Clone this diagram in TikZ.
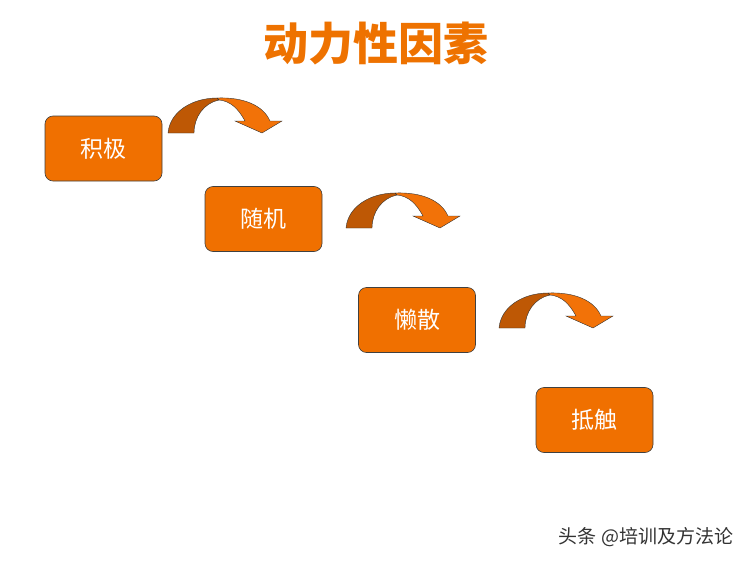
\documentclass[tikz,border=0pt]{standalone}
\usepackage{fontspec}
\newfontfamily\cjk{Noto Sans CJK SC}
\usetikzlibrary{calc}

\definecolor{boxorange}{RGB}{240,112,0}
\definecolor{arrowdark}{RGB}{190,88,5}
\definecolor{arrowlight}{RGB}{242,114,8}
\definecolor{titleorange}{RGB}{238,114,0}

\tikzset{
  stagebox/.style={fill=boxorange, draw=black!75, line width=0.6pt, rounded corners=8pt,
    minimum width=117pt, minimum height=65pt, text=white, font=\cjk\fontsize{23}{26}\selectfont},
  turnarrow/.pic={
    \filldraw[fill=arrowdark, draw=black!80, line width=0.4pt]
      (0,0) .. controls (2,-22) and (25,-35) .. (49,-35) -- (51,-33)
      .. controls (36,-30) and (26,-16) .. (26,0) -- cycle;
    \filldraw[fill=arrowlight, draw=black!80, line width=0.4pt]
      (49,-35) .. controls (75,-36) and (95,-28) .. (102,-12) -- (114,-12) -- (94,0)
      -- (67,-12) -- (77,-12) .. controls (70,-25) and (62,-32) .. (51,-33) -- cycle;
  }
}

\begin{document}
\begin{tikzpicture}[x=1pt, y=-1pt]
    \useasboundingbox[fill=white] (0,0) rectangle (750,562);
    \node[text=titleorange, font=\cjk\bfseries\fontsize{45}{50}\selectfont] (title) at (376,44) {动力性因素};
    \foreach \name/\word/\x/\y in {active/积极/103.5/148.5, random/随机/263.5/219,
                                   lazy/懒散/417/320, resist/抵触/594.5/420}{
      \node[stagebox] (\name) at (\x,\y) {\word};
    }
    \foreach \x/\y in {168/133, 346/228, 499/328}{
      \pic at (\x,\y) {turnarrow};
    }
    \node[text=black!80, font=\cjk\fontsize{19}{22}\selectfont] (mark) at (646,537) {头条 @培训及方法论};
  \end{tikzpicture}
\end{document}
